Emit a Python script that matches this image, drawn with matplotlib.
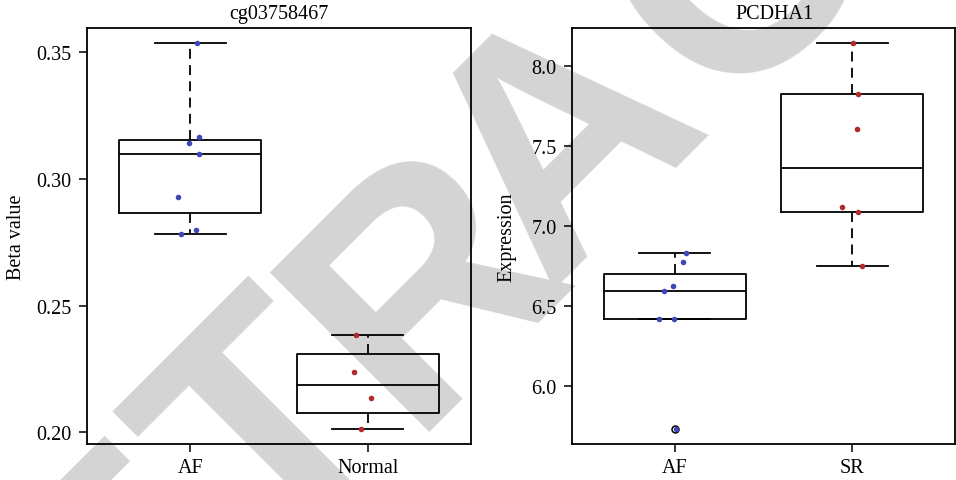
import numpy as np
import matplotlib.pyplot as plt
from matplotlib.ticker import FormatStrFormatter

plt.rcParams['font.family'] = ['Liberation Serif', 'DejaVu Serif']

# left panel: methylation beta values
left_title = 'cg03758467'
left_groups = ['AF', 'Normal']
af_beta = [0.3534, 0.3164, 0.3143, 0.3097, 0.2930, 0.2798, 0.2781]
af_beta_jit = [0.036, 0.051, -0.004, 0.051, -0.066, 0.034, -0.049]
normal_beta = [0.2385, 0.2237, 0.2135, 0.2015]
normal_beta_jit = [-0.069, -0.077, 0.017, -0.041]
left_yticks = [0.20, 0.25, 0.30, 0.35]

# right panel: expression
right_title = 'PCDHA1'
right_groups = ['AF', 'SR']
af_expr = [6.829, 6.773, 6.625, 6.591, 6.416, 6.416, 5.731]
af_expr_jit = [0.063, 0.045, -0.013, -0.062, -0.092, -0.002, 0.007]
sr_expr = [8.144, 7.825, 7.608, 7.119, 7.090, 6.748]
sr_expr_jit = [0.004, 0.034, 0.026, -0.056, 0.035, 0.058]
right_yticks = [6.0, 6.5, 7.0, 7.5, 8.0]

blue = '#3f47b8'
red = '#b3282a'

# watermark letters and their place along the 45 degree baseline (pixels, x - y)
wm_letters = ['E', 'T', 'R', 'A', 'C']
wm_offsets = [-449, -161, 142, 424, 776]
wm_baseline = 838  # x + y of the baseline, pixels


def fivenum(v):
    v = np.sort(np.asarray(v, dtype=float))
    n = len(v)
    n4 = np.floor((n + 3) / 2) / 2
    d = np.array([1, n4, (n + 1) / 2, n + 1 - n4, n]) - 1
    return 0.5 * (v[np.floor(d).astype(int)] + v[np.ceil(d).astype(int)])


def box_stats(v):
    v = np.asarray(v, dtype=float)
    _, q1, med, q3, _ = fivenum(v)
    iqr = q3 - q1
    inside = v[(v >= q1 - 1.5 * iqr) & (v <= q3 + 1.5 * iqr)]
    fliers = v[(v < q1 - 1.5 * iqr) | (v > q3 + 1.5 * iqr)]
    return dict(med=med, q1=q1, q3=q3, whislo=inside.min(), whishi=inside.max(), fliers=fliers)


def panel(ax, title, groups, data, jits, colors, yticks, fmt, ylabel, label_x, title_x):
    lw = 1.3
    ax.bxp([box_stats(d) for d in data], positions=[1, 2], widths=0.8, capwidths=0.4,
           boxprops=dict(color='black', linewidth=lw),
           whiskerprops=dict(color='black', linewidth=lw, linestyle=(0, (5.5, 3.5))),
           capprops=dict(color='black', linewidth=lw),
           medianprops=dict(color='black', linewidth=lw),
           flierprops=dict(marker='o', markerfacecolor='none', markeredgecolor='black',
                           markersize=5, markeredgewidth=1.1))
    for i, (d, j, c) in enumerate(zip(data, jits, colors)):
        ax.scatter(np.array(j) + i + 1, d, s=16, color=c, zorder=3, linewidths=0)
    allv = np.concatenate([np.asarray(d) for d in data])
    lo, hi = allv.min(), allv.max()
    pad = 0.04 * (hi - lo)
    ax.set_ylim(lo - pad, hi + pad)
    ax.set_xlim(0.42, 2.58)
    ax.set_xticks([1, 2])
    ax.set_xticklabels(groups)
    ax.set_yticks(yticks)
    ax.yaxis.set_major_formatter(FormatStrFormatter(fmt))
    ax.tick_params(direction='out', length=6, width=1.1, labelsize=14.5, pad=5)
    ax.tick_params(axis='x', pad=4)
    for s in ax.spines.values():
        s.set_linewidth(1.3)
    ax.set_facecolor('none')
    ax.set_title(title, fontsize=14.5, pad=7, x=title_x)
    ax.set_ylabel(ylabel, fontsize=14.5)
    ax.yaxis.set_label_coords(label_x, 0.5)


W, H = 956, 481
fig = plt.figure(figsize=(W / 100, H / 100), dpi=100)
fig.patch.set_facecolor('white')

# watermark behind the axes
for ch, d in zip(wm_letters, wm_offsets):
    px = (wm_baseline + d) / 2
    py = (wm_baseline - d) / 2
    fig.text(px / W, 1 - py / H, ch, rotation=45, rotation_mode='anchor',
             ha='center', va='baseline', fontsize=235, fontweight='bold',
             family='Liberation Sans', color='#d4d4d4', zorder=-1)

ax1 = fig.add_axes([87 / W, 1 - 445 / H, 384 / W, 416 / H])
ax2 = fig.add_axes([572 / W, 1 - 445 / H, 383 / W, 416 / H])

panel(ax1, left_title, left_groups, [af_beta, normal_beta], [af_beta_jit, normal_beta_jit],
      [blue, red], left_yticks, '%.2f', 'Beta value', -0.16, 0.5)
panel(ax2, right_title, right_groups, [af_expr, sr_expr], [af_expr_jit, sr_expr_jit],
      [blue, red], right_yticks, '%.1f', 'Expression', -0.145, 0.53)

fig.savefig('out.png', dpi=100)
